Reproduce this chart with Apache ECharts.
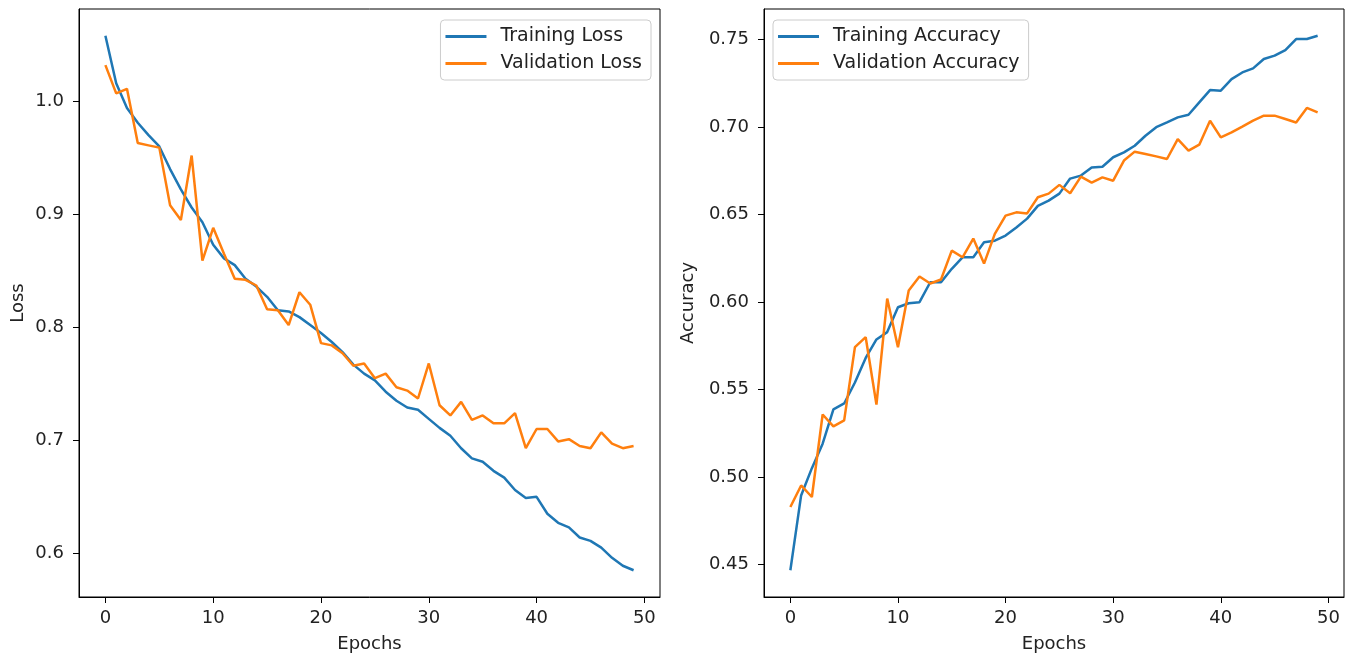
<!DOCTYPE html>
<html>
<head>
<meta charset="utf-8">
<script src="https://cdn.jsdelivr.net/npm/echarts@6/dist/echarts.min.js"></script>
<style>
html,body{margin:0;padding:0;background:#fff;}
#chart{width:1352px;height:659px;}
</style>
</head>
<body>
<div id="chart"></div>
<script>
const epochs = [0,1,2,3,4,5,6,7,8,9,10,11,12,13,14,15,16,17,18,19,20,21,22,23,24,25,26,27,28,29,30,31,32,33,34,35,36,37,38,39,40,41,42,43,44,45,46,47,48,49];

const trainLoss = [1.058,1.016,0.994,0.981,0.970,0.960,0.940,0.922,0.906,0.893,0.873,0.861,0.855,0.843,0.836,0.827,0.815,0.814,0.809,0.802,0.795,0.787,0.778,0.767,0.759,0.753,0.743,0.735,0.729,0.727,0.719,0.711,0.704,0.693,0.684,0.681,0.673,0.667,0.656,0.649,0.650,0.635,0.627,0.623,0.614,0.611,0.605,0.596,0.589,0.585];
const valLoss = [1.032,1.007,1.011,0.963,0.961,0.959,0.908,0.895,0.952,0.859,0.888,0.865,0.843,0.842,0.837,0.816,0.815,0.802,0.831,0.820,0.786,0.784,0.777,0.766,0.768,0.755,0.759,0.747,0.744,0.737,0.768,0.731,0.722,0.734,0.718,0.722,0.715,0.715,0.724,0.693,0.710,0.710,0.699,0.701,0.695,0.693,0.707,0.697,0.693,0.695];

const trainAcc = [0.4466,0.4894,0.505,0.519,0.5386,0.542,0.554,0.568,0.5786,0.5828,0.597,0.5993,0.5999,0.6113,0.6113,0.619,0.6256,0.6256,0.6342,0.6351,0.638,0.6426,0.6477,0.655,0.658,0.662,0.6706,0.6723,0.677,0.6774,0.6828,0.6856,0.6894,0.6951,0.700,0.7027,0.7056,0.7071,0.7142,0.7212,0.7209,0.7275,0.7313,0.7336,0.739,0.7409,0.7441,0.7504,0.7504,0.7523];
const valAcc = [0.4828,0.4951,0.4885,0.5357,0.5289,0.5323,0.5742,0.5799,0.5414,0.602,0.5742,0.6066,0.6146,0.6106,0.6129,0.6294,0.6256,0.6363,0.622,0.639,0.6494,0.6513,0.6507,0.6599,0.662,0.667,0.6622,0.6717,0.6683,0.6713,0.6694,0.6809,0.686,0.6847,0.6833,0.6818,0.6932,0.6866,0.69,0.7037,0.6942,0.697,0.7003,0.7037,0.7066,0.7066,0.7047,0.7027,0.711,0.7085];

const xTicks = [0,10,20,30,40,50];
const lossTicks = [0.6,0.7,0.8,0.9,1.0];
const accTicks = [0.45,0.50,0.55,0.60,0.65,0.70,0.75];

const FONT = 'DejaVu Sans';
const TXT = '#222';
const BLUE = '#1f77b4', ORANGE = '#ff7f0e';

function pad(arrs){
  let mn = Infinity, mx = -Infinity;
  arrs.forEach(a => a.forEach(v => { if (v < mn) mn = v; if (v > mx) mx = v; }));
  const r = mx - mn;
  return [mn - 0.05*r, mx + 0.05*r];
}
const xr = pad([epochs]);
const lr = pad([trainLoss, valLoss]);
const ar = pad([trainAcc, valAcc]);

function pairs(v){ return epochs.map((e,i)=>[e, v[i]]); }

function xAxis(gi){
  return {
    type:'value', gridIndex:gi, min:xr[0], max:xr[1],
    name:'Epochs', nameLocation:'middle', nameGap:38,
    nameTextStyle:{fontFamily:FONT,fontSize:18,color:TXT},
    axisLine:{show:true,onZero:false,lineStyle:{color:'#000',width:1}},
    axisTick:{show:true,length:6,lineStyle:{color:'#000',width:1},customValues:xTicks},
    axisLabel:{fontFamily:FONT,fontSize:18,color:TXT,margin:12,customValues:xTicks},
    splitLine:{show:false}
  };
}
function yAxis(gi, rng, ticks, name, gap, dec){
  return {
    type:'value', gridIndex:gi, min:rng[0], max:rng[1],
    name:name, nameLocation:'middle', nameGap:gap, nameRotate:90,
    nameTextStyle:{fontFamily:FONT,fontSize:18,color:TXT},
    axisLine:{show:true,onZero:false,lineStyle:{color:'#000',width:1}},
    axisTick:{show:true,length:6,lineStyle:{color:'#000',width:1},customValues:ticks},
    axisLabel:{fontFamily:FONT,fontSize:18,color:TXT,margin:15,customValues:ticks,
      formatter:v=>Number(v).toFixed(dec)},
    splitLine:{show:false}
  };
}
function legend(names, pos){
  return Object.assign({
    orient:'vertical', top:20, icon:'rect', itemWidth:41, itemHeight:3, itemGap:8,
    padding:[7,9,7,5],
    backgroundColor:'rgba(255,255,255,0.8)', borderColor:'#cccccc', borderWidth:1, borderRadius:4,
    textStyle:{fontFamily:FONT,fontSize:19,color:TXT,padding:[0,0,0,9],height:19,lineHeight:19},
    data:names
  }, pos);
}
function line(name, gi, data, color){
  return {
    type:'line', name:name, xAxisIndex:gi, yAxisIndex:gi, data:pairs(data),
    symbol:'none', showSymbol:false, smooth:false,
    lineStyle:{color:color,width:2.5}, itemStyle:{color:color}, z:3
  };
}

const chart = echarts.init(document.getElementById('chart'), null, {renderer:'canvas'});
chart.setOption({
  animation:false,
  backgroundColor:'#fff',
  grid:[
    {left:79, top:9, width:581, height:588, show:true, borderColor:'#000', borderWidth:1, backgroundColor:'transparent'},
    {left:764, top:9, width:580, height:588, show:true, borderColor:'#000', borderWidth:1, backgroundColor:'transparent'}
  ],
  xAxis:[xAxis(0), xAxis(1)],
  yAxis:[yAxis(0, lr, lossTicks, 'Loss', 52, 1), yAxis(1, ar, accTicks, 'Accuracy', 67, 2)],
  legend:[
    legend(['Training Loss','Validation Loss'], {right:701}),
    legend(['Training Accuracy','Validation Accuracy'], {left:773})
  ],
  series:[
    line('Training Loss',0,trainLoss,BLUE),
    line('Validation Loss',0,valLoss,ORANGE),
    line('Training Accuracy',1,trainAcc,BLUE),
    line('Validation Accuracy',1,valAcc,ORANGE)
  ]
});
</script>
</body>
</html>
